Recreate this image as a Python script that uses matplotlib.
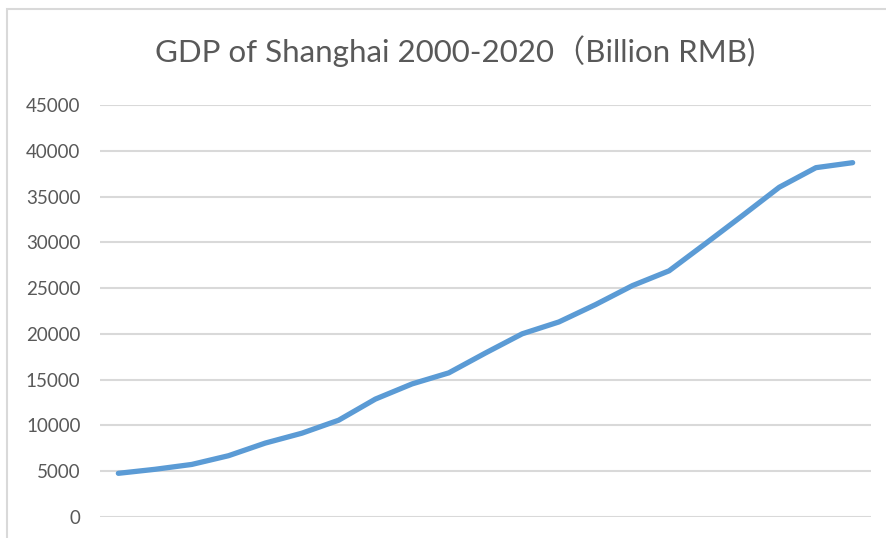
import matplotlib
matplotlib.use("Agg")
import matplotlib.pyplot as plt
from matplotlib.patches import Rectangle

# Shanghai GDP, 2000-2020 (values as labelled on the chart)
years = list(range(2000, 2021))
gdp = [4771, 5210, 5741, 6694, 8073, 9154, 10572, 12878, 14536, 15742,
       17915, 20009, 21305, 23204, 25269, 26887, 29887, 32925, 36012,
       38155, 38701]
y_ticks = [0, 5000, 10000, 15000, 20000, 25000, 30000, 35000, 40000, 45000]

plt.rcParams['font.family'] = ['Lato', 'Noto Sans CJK SC', 'DejaVu Sans']

W, H = 886, 538
fig = plt.figure(figsize=(W / 100, H / 100), dpi=100)

# chart frame (only left and top edges are visible in the crop)
fig.patches.append(Rectangle((7 / W, -0.1), 1.2, 1 - 9.5 / H + 0.1,
                             transform=fig.transFigure, fill=False,
                             edgecolor="#d9d9d9", linewidth=1.5))

ax = fig.add_axes([100 / W, 21 / H, 771 / W, 412 / H])
x = list(range(len(years)))
ax.plot(x, gdp, color="#5b9bd5", linewidth=3.8, solid_capstyle="round",
        solid_joinstyle="round")

ax.set_xlim(-0.5, len(years) - 0.5)
ax.set_ylim(0, 45000)
ax.set_yticks(y_ticks)
ax.set_yticklabels([str(v) for v in y_ticks], fontsize=13.5, color="#595959")
ax.set_xticks([])
ax.tick_params(axis="y", length=0, pad=14)
ax.grid(axis="y", color="#d9d9d9", linewidth=1.5)
ax.set_axisbelow(True)
for s in ax.spines.values():
    s.set_visible(False)

fig.text(455 / W, 1 - 51 / H, "GDP of Shanghai 2000-2020（Billion RMB)",
         ha="center", va="center", fontsize=22.5, color="#595959")

fig.savefig("out.png", dpi=100)
